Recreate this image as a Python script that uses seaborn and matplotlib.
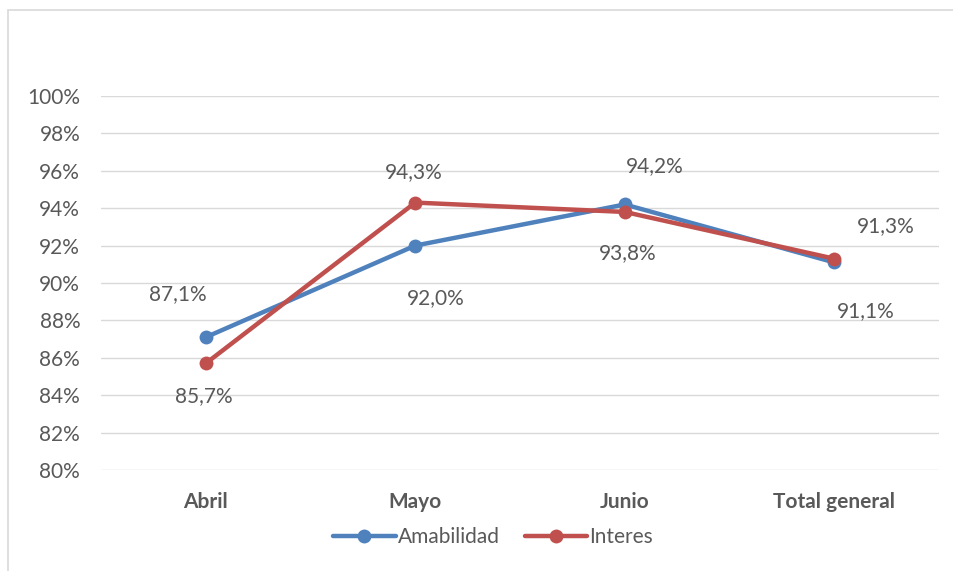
import matplotlib
matplotlib.use("Agg")
import matplotlib.pyplot as plt
import seaborn as sns
import pandas as pd
from matplotlib.patches import Rectangle

categories = ["Abril", "Mayo", "Junio", "Total general"]
amabilidad = [87.1, 92.0, 94.2, 91.1]
interes = [85.7, 94.3, 93.8, 91.3]
series_names = ["Amabilidad", "Interes"]
yticks = [80, 82, 84, 86, 88, 90, 92, 94, 96, 98, 100]

df = pd.DataFrame({
    "cat": categories * 2,
    "val": amabilidad + interes,
    "serie": [series_names[0]] * 4 + [series_names[1]] * 4,
})

sns.set_style("white")
plt.rcParams["font.family"] = ["Lato", "DejaVu Sans"]
TXT = "#595959"
FS = 15

fig = plt.figure(figsize=(9.54, 5.71), dpi=100)
ax = fig.add_axes([101/954, 1-470/571, (939-101)/954, (470-96)/571])

palette = {"Amabilidad": "#4F81BD", "Interes": "#C0504D"}
sns.lineplot(data=df, x="cat", y="val", hue="serie", palette=palette, marker="o",
             markersize=10, linewidth=3.2, markeredgewidth=0, ax=ax, sort=False)

ax.set_xlim(-0.5, 3.5)
ax.set_ylim(80, 100)
ax.set_yticks(yticks)
ax.set_yticklabels([f"{t}%" for t in yticks], color=TXT, fontsize=FS)
ax.set_xticks(range(len(categories)))
ax.set_xticklabels(categories, color=TXT, fontsize=FS, fontweight="bold")
ax.tick_params(axis="x", length=0, pad=16)
ax.tick_params(axis="y", length=0, pad=15)
ax.grid(axis="y", color="#D9D9D9", linewidth=1)
ax.set_axisbelow(True)
for s in ax.spines.values():
    s.set_visible(False)
ax.set_xlabel("")
ax.set_ylabel("")

def fmt(v):
    return f"{v:.1f}%".replace(".", ",")

# label offsets in pixels (dx, dy)
off_a = [(-28, 43), (21, -52), (30, 38), (32, -49)]
off_i = [(-2, -33), (-1, 30), (3, -41), (52, 33)]
for i in range(4):
    ax.annotate(fmt(amabilidad[i]), (i, amabilidad[i]), xytext=off_a[i], textcoords="offset pixels",
                ha="center", va="center", color=TXT, fontsize=FS)
    ax.annotate(fmt(interes[i]), (i, interes[i]), xytext=off_i[i], textcoords="offset pixels",
                ha="center", va="center", color=TXT, fontsize=FS)

leg = ax.legend(loc="center", bbox_to_anchor=(493/954, 1-537/571), bbox_transform=fig.transFigure,
                ncol=2, frameon=False, fontsize=FS, handlelength=3.0, columnspacing=1.2,
                handletextpad=0.1)
for t in leg.get_texts():
    t.set_color(TXT)

fig.patches.append(Rectangle((8/954, -0.1), 1.0, 1-10/571+0.1, transform=fig.transFigure,
                             fill=False, edgecolor="#D9D9D9", linewidth=1.2))

fig.savefig("out.png", dpi=100)
